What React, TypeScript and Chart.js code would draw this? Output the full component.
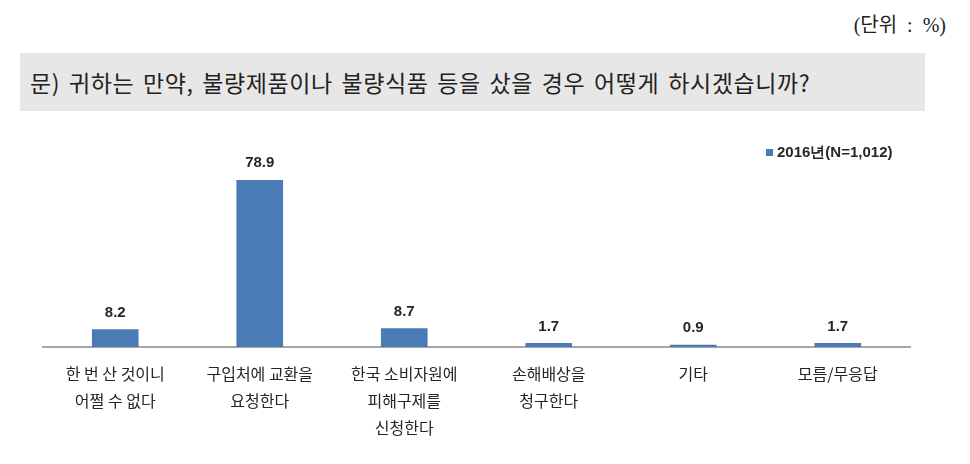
import React, { useEffect, useRef } from "react";
import { Chart, registerables } from "chart.js";

Chart.register(...registerables);

const categories: (string | string[])[] = [
  ["한 번 산 것이니", "어쩔 수 없다"],
  ["구입처에 교환을", "요청한다"],
  ["한국 소비자원에", "피해구제를", "신청한다"],
  ["손해배상을", "청구한다"],
  "기타",
  "모름/무응답",
];
const values2016: number[] = [8.2, 78.9, 8.7, 1.7, 0.9, 1.7];
const seriesLabel = "2016년(N=1,012)";
const unitText = "(단위 : %)";
const questionText = "문) 귀하는 만약, 불량제품이나 불량식품 등을 샀을 경우 어떻게 하시겠습니까?";

const BAR_COLOR = "#4a7bb7";

const valueLabelPlugin = {
  id: "valueLabels",
  afterDatasetsDraw(chart: any) {
    const ctx = chart.ctx;
    const meta = chart.getDatasetMeta(0);
    ctx.save();
    ctx.font = "bold 15px 'Liberation Sans', Arial, sans-serif";
    ctx.fillStyle = "#262626";
    ctx.textAlign = "center";
    ctx.textBaseline = "middle";
    meta.data.forEach((bar: any, i: number) => {
      const v = chart.data.datasets[0].data[i];
      ctx.fillText(v.toFixed(1), bar.x, bar.y - 17);
    });
    ctx.restore();
  },
};

const legendPlugin = {
  id: "customLegend",
  afterDraw(chart: any) {
    const ctx = chart.ctx;
    const ds = chart.data.datasets[0];
    ctx.save();
    ctx.fillStyle = ds.backgroundColor;
    ctx.fillRect(766, 149, 7, 7);
    ctx.font = "bold 15px 'Liberation Sans', Arial, sans-serif";
    ctx.fillStyle = "#262626";
    ctx.textAlign = "left";
    ctx.textBaseline = "middle";
    ctx.fillText(ds.label, 777, 153);
    ctx.restore();
  },
};

export default function App() {
  const canvasRef = useRef<HTMLCanvasElement | null>(null);

  useEffect(() => {
    if (!canvasRef.current) return;
    const chart = new Chart(canvasRef.current, {
      type: "bar",
      data: {
        labels: categories,
        datasets: [
          {
            label: seriesLabel,
            data: values2016,
            backgroundColor: BAR_COLOR,
            borderWidth: 0,
            barThickness: 46,
          },
        ],
      },
      options: {
        animation: false,
        responsive: true,
        maintainAspectRatio: false,
        layout: { padding: { left: 43, right: 60, top: 178, bottom: 0 } },
        plugins: {
          legend: { display: false },
          tooltip: { enabled: false },
          title: { display: false },
        },
        scales: {
          x: {
            grid: { display: false },
            border: { display: true, color: "#a6a6a6", width: 2 },
            ticks: {
              color: "#262626",
              padding: 5,
              maxRotation: 0,
              autoSkip: false,
              font: { family: "'Noto Sans CJK KR', sans-serif", size: 16, lineHeight: "27px" },
            },
            afterFit: (s: any) => {
              s.height = 117;
            },
          },
          y: {
            display: false,
            min: 0,
            max: 80,
          },
        },
      },
      plugins: [valueLabelPlugin, legendPlugin],
    });
    return () => chart.destroy();
  }, []);

  return (
    <div style={{ position: "fixed", left: 0, top: 0, width: 970, height: 464, background: "#fff" }}>
      <div
        style={{
          position: "absolute",
          right: 24,
          top: 12,
          fontFamily: "'Liberation Serif', 'Noto Sans CJK KR', serif",
          fontSize: 20,
          color: "#222",
          lineHeight: "26px",
          whiteSpace: "pre",
        }}
      >
        {"(단위  :  %)"}
      </div>
      <div
        style={{
          position: "absolute",
          left: 20,
          top: 53,
          width: 905,
          height: 58,
          background: "#e7e7e7",
        }}
      />
      <div
        style={{
          position: "absolute",
          left: 30,
          top: 53,
          height: 58,
          lineHeight: "58px",
          fontFamily: "'Noto Sans CJK KR', sans-serif",
          fontSize: 23,
          letterSpacing: "0.6px",
          wordSpacing: "3px",
          color: "#222",
          whiteSpace: "nowrap",
        }}
      >
        {questionText}
      </div>
      <div style={{ position: "absolute", left: 0, top: 0, width: 970, height: 464 }}>
        <canvas ref={canvasRef} />
      </div>
    </div>
  );
}
